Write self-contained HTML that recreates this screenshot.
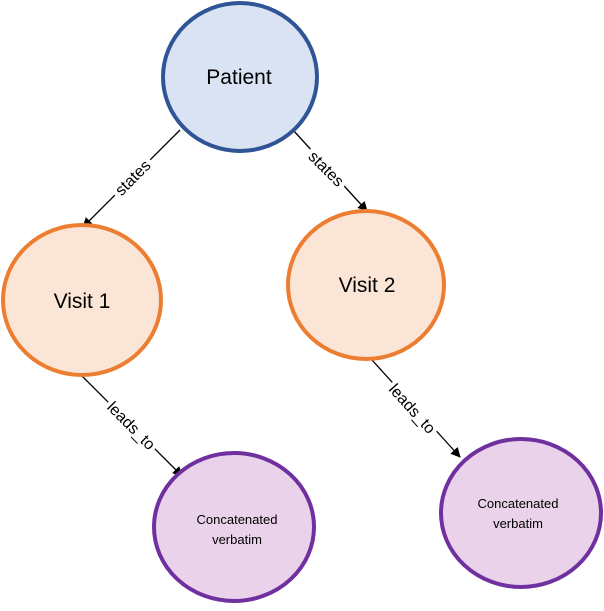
<!DOCTYPE html>
<html><head><style>body{margin:0;background:#fff}</style></head><body>
<svg width="604" height="606" viewBox="0 0 604 606" xmlns="http://www.w3.org/2000/svg" font-family="Liberation Sans, sans-serif">
<defs><marker id="a" markerWidth="10" markerHeight="10" refX="9" refY="5" orient="auto" markerUnits="userSpaceOnUse"><path d="M0,0 L10,5 L0,10 z" fill="#000"/></marker></defs>
<g stroke="#000" stroke-width="1.3" fill="none">
<line x1="180" y1="130" x2="83" y2="227" marker-end="url(#a)"/>
<line x1="293" y1="130" x2="367" y2="211" marker-end="url(#a)"/>
<line x1="82" y1="376" x2="182" y2="476" marker-end="url(#a)"/>
<line x1="372" y1="360" x2="460" y2="457" marker-end="url(#a)"/>
</g>
<g font-size="16" fill="#000">
<g transform="translate(133,178) rotate(-45)"><rect x="-25" y="-11" width="50" height="20" fill="#fff"/><text text-anchor="middle" y="5">states</text></g>
<g transform="translate(326,169) rotate(45)"><rect x="-25" y="-11" width="50" height="20" fill="#fff"/><text text-anchor="middle" y="5">states</text></g>
<g transform="translate(131,426) rotate(45)"><rect x="-33" y="-11" width="66" height="20" fill="#fff"/><text text-anchor="middle" y="5">leads_to</text></g>
<g transform="translate(412,409) rotate(48)"><rect x="-33" y="-11" width="66" height="20" fill="#fff"/><text text-anchor="middle" y="5">leads_to</text></g>
</g>
<ellipse cx="240" cy="77" rx="77" ry="74" fill="#DAE3F3" stroke="#2F5597" stroke-width="4"/>
<ellipse cx="82" cy="300" rx="79" ry="75" fill="#FBE5D6" stroke="#ED7D31" stroke-width="4"/>
<ellipse cx="366" cy="285" rx="78" ry="74" fill="#FBE5D6" stroke="#ED7D31" stroke-width="4"/>
<ellipse cx="234" cy="527" rx="80" ry="74" fill="#EAD3EA" stroke="#7030A0" stroke-width="4"/>
<ellipse cx="521" cy="513" rx="80" ry="74" fill="#EAD3EA" stroke="#7030A0" stroke-width="4"/>
<g fill="#000" text-anchor="middle">
<text x="239" y="84" font-size="21">Patient</text>
<text x="82" y="308" font-size="21">Visit 1</text>
<text x="367" y="292" font-size="21">Visit 2</text>
<text x="237" y="524" font-size="13">Concatenated</text>
<text x="237" y="544" font-size="13">verbatim</text>
<text x="518" y="508" font-size="13">Concatenated</text>
<text x="518" y="528" font-size="13">verbatim</text>
</g>
</svg>
</body></html>
